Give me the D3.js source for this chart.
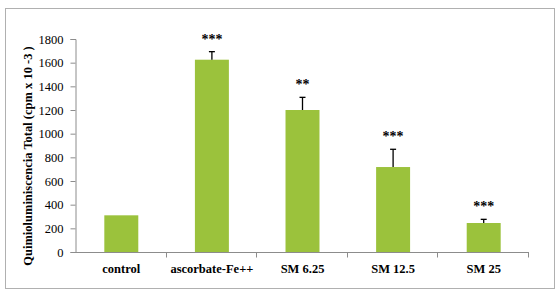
<!DOCTYPE html>
<html>
<head>
<meta charset="utf-8">
<script src="https://cdn.jsdelivr.net/npm/d3@7"></script>
<style>
  body { margin: 0; background: #fff; }
  text { font-family: "Liberation Serif", "Times New Roman", serif; }
</style>
</head>
<body>
<div id="chart"></div>
<script>
// Quimioluminiscencia total by treatment
const categories = ["control", "ascorbate-Fe++", "SM 6.25", "SM 12.5", "SM 25"];
const values = [310, 1625, 1200, 718, 245];
const errors = [0, 68, 107, 150, 31];
const signif = ["", "***", "**", "***", "***"];
const yTicks = [0, 200, 400, 600, 800, 1000, 1200, 1400, 1600, 1800];

const W = 559, H = 295;
const margin = {top: 39, right: 30, bottom: 43, left: 76};
const serif = "'Liberation Serif', 'Times New Roman', serif";
const svg = d3.select("#chart").append("svg").attr("width", W).attr("height", H)
  .attr("font-family", serif);

// outer frame
svg.append("rect").attr("x", 5.5).attr("y", 8.5).attr("width", 549).attr("height", 280)
  .attr("fill", "none").attr("stroke", "#b0b0b0").attr("stroke-width", 1);

const x = d3.scaleBand().domain(categories).range([margin.left, W - margin.right])
  .paddingInner(0.625).paddingOuter(0.3125);
const y = d3.scaleLinear().domain([0, 1800]).range([H - margin.bottom, margin.top]);

// y axis
const yAxis = svg.append("g").attr("transform", `translate(${margin.left - 0.5},0)`)
  .call(d3.axisLeft(y).tickValues(yTicks).tickSize(5).tickPadding(7).tickFormat(d3.format("d")))
  .attr("font-family", serif).attr("font-size", 12.5);
yAxis.select(".domain").attr("stroke", "#8c8c8c");
yAxis.selectAll(".tick line").attr("stroke", "#8c8c8c");
yAxis.selectAll("text").attr("fill", "#000");

// x axis with boundary ticks
const xAxisG = svg.append("g").attr("transform", `translate(0,${H - margin.bottom + 0.5})`);
xAxisG.append("line").attr("x1", margin.left - 0.5).attr("x2", W - margin.right)
  .attr("stroke", "#8c8c8c");
const step = x.step();
const bounds = d3.range(categories.length + 1).map(i => margin.left + i * step);
xAxisG.selectAll("line.b").data(bounds.slice(1)).join("line").attr("class", "b")
  .attr("x1", d => Math.round(d) - 0.5).attr("x2", d => Math.round(d) - 0.5)
  .attr("y1", 0).attr("y2", 5).attr("stroke", "#8c8c8c");
xAxisG.selectAll("text").data(categories).join("text")
  .attr("x", d => x(d) + x.bandwidth() / 2).attr("y", 20)
  .attr("text-anchor", "middle").attr("font-size", 12.5).attr("font-weight", "bold")
  .text(d => d);

// bars
svg.selectAll("rect.bar").data(categories).join("rect").attr("class", "bar")
  .attr("x", d => x(d)).attr("width", x.bandwidth())
  .attr("y", (d, i) => y(values[i])).attr("height", (d, i) => y(0) - y(values[i]))
  .attr("fill", "#9bc23c");

// error bars (upper only)
const eb = svg.selectAll("g.err").data(categories).join("g").attr("class", "err")
  .filter((d, i) => errors[i] > 0);
const errTop = d => y(values[categories.indexOf(d)] + errors[categories.indexOf(d)]);
const mid = d => x(d) + x.bandwidth() / 2;
eb.append("line")
  .attr("x1", mid).attr("x2", mid)
  .attr("y1", d => y(values[categories.indexOf(d)])).attr("y2", errTop)
  .attr("stroke", "#000").attr("stroke-width", 1.3);
eb.append("line")
  .attr("x1", d => mid(d) - 3).attr("x2", d => mid(d) + 3)
  .attr("y1", errTop).attr("y2", errTop)
  .attr("stroke", "#000").attr("stroke-width", 1.3);

// significance stars
svg.selectAll("text.sig").data(categories).join("text").attr("class", "sig")
  .attr("x", mid)
  .attr("y", (d, i) => y(values[i] + errors[i]) - 8)
  .attr("text-anchor", "middle").attr("font-size", 14).attr("font-weight", "bold")
  .text((d, i) => signif[i]);

// y axis title
svg.append("text")
  .attr("transform", "translate(32,156) rotate(-90)")
  .attr("text-anchor", "middle").attr("font-size", 12.5).attr("font-weight", "bold")
  .text("Quimioluminiscencia Total (cpm x 10 -3 )");
</script>
</body>
</html>
